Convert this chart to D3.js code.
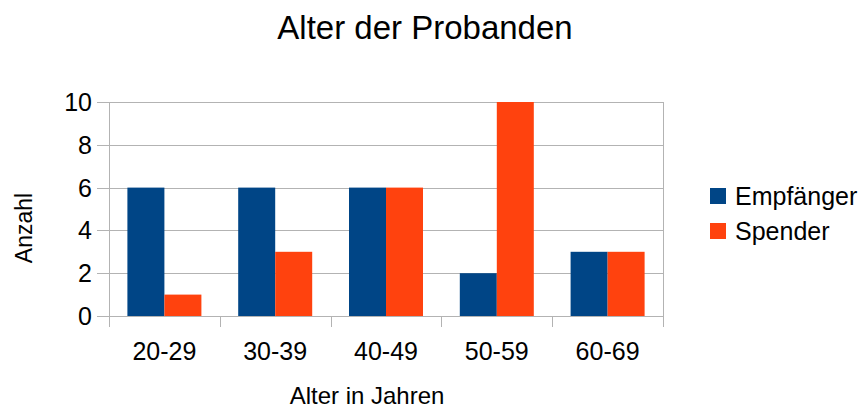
<!DOCTYPE html>
<html><head><meta charset="utf-8">
<script src="https://cdn.jsdelivr.net/npm/d3@7"></script>
<style>body{margin:0;background:#fff;font-family:"Liberation Sans",Arial,sans-serif;}</style>
</head><body>
<svg id="c" width="861" height="410"></svg>
<script>
const categories = ["20-29","30-39","40-49","50-59","60-69"];
const seriesNames = ["Empfänger","Spender"];
const empfaenger = [6,6,6,2,3];
const spender = [1,3,6,10,3];
const yTicks = [0,2,4,6,8,10];
const colors = ["#004586","#ff420e"];

(function(){
const svg = d3.select("#c");
const pL=109, pR=663, pT=102, pB=316;
const x = d3.scaleBand().domain(categories).range([pL,pR]).paddingInner(0).paddingOuter(0);
const y = d3.scaleLinear().domain([0,10]).range([pB,pT]);
const font = "'Liberation Sans',Arial,sans-serif";

svg.append("g").selectAll("line").data(yTicks).join("line")
  .attr("x1",pL-12).attr("x2",pR).attr("y1",d=>Math.round(y(d))+0.5).attr("y2",d=>Math.round(y(d))+0.5)
  .attr("stroke","#b3b3b3").attr("stroke-width",1);
svg.append("line").attr("x1",pL+0.5).attr("x2",pL+0.5).attr("y1",pT).attr("y2",pB+11)
  .attr("stroke","#b3b3b3");
svg.append("line").attr("x1",pR+0.5).attr("x2",pR+0.5).attr("y1",pT).attr("y2",pB+11)
  .attr("stroke","#b3b3b3");
svg.append("g").selectAll("line").data(categories.slice(1)).join("line")
  .attr("x1",d=>Math.round(x(d))+0.5).attr("x2",d=>Math.round(x(d))+0.5).attr("y1",pB).attr("y2",pB+11)
  .attr("stroke","#b3b3b3");

const bw = 37;
const data = [empfaenger, spender];
data.forEach((vals,si)=>{
  svg.append("g").selectAll("rect").data(vals).join("rect")
    .attr("x",(d,i)=>x(categories[i])+x.bandwidth()/2-bw+si*bw)
    .attr("width",bw)
    .attr("y",d=>y(d)).attr("height",d=>y(0)-y(d))
    .attr("fill",colors[si]);
});

svg.append("g").selectAll("text").data(yTicks).join("text")
  .attr("x",92).attr("y",d=>y(d)+9).attr("text-anchor","end")
  .attr("font-family",font).attr("font-size",25).text(d=>d);
svg.append("g").selectAll("text").data(categories).join("text")
  .attr("x",d=>x(d)+x.bandwidth()/2).attr("y",360).attr("text-anchor","middle")
  .attr("font-family",font).attr("font-size",25).text(d=>d);

svg.append("text").attr("x",425).attr("y",39).attr("text-anchor","middle")
  .attr("font-family",font).attr("font-size",33).text("Alter der Probanden");
svg.append("text").attr("x",367).attr("y",404).attr("text-anchor","middle")
  .attr("font-family",font).attr("font-size",24).text("Alter in Jahren");
svg.append("text").attr("transform","translate(32,228) rotate(-90)").attr("text-anchor","middle")
  .attr("font-family",font).attr("font-size",23).text("Anzahl");

const lg = svg.append("g").selectAll("g").data(seriesNames).join("g")
  .attr("transform",(d,i)=>`translate(710,${188+i*35})`);
lg.append("rect").attr("width",16).attr("height",16).attr("fill",(d,i)=>colors[i]);
lg.append("text").attr("x",25).attr("y",17).attr("font-family",font).attr("font-size",25).text(d=>d);
})();
</script>
</body></html>
